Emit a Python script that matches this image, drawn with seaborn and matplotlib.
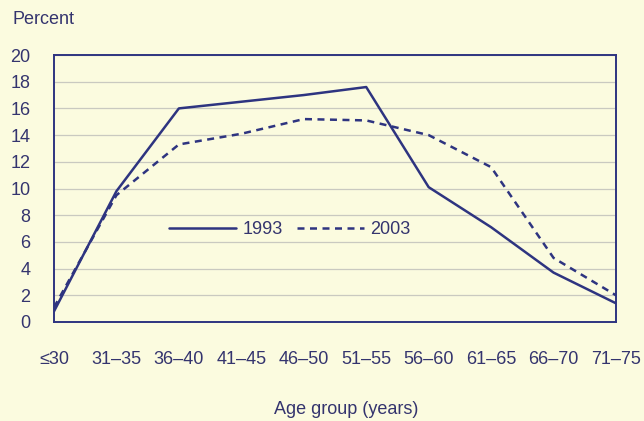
import numpy as np
import pandas as pd
import matplotlib
matplotlib.use("Agg")
import matplotlib.pyplot as plt
import seaborn as sns

age_groups = ["≤30", "31–35", "36–40", "41–45", "46–50", "51–55",
              "56–60", "61–65", "66–70", "71–75"]
pct_1993 = [0.8, 9.8, 16.0, 16.5, 17.0, 17.6, 10.1, 7.1, 3.7, 1.4]
pct_2003 = [1.1, 9.5, 13.3, 14.1, 15.2, 15.1, 14.0, 11.6, 4.8, 2.0]
y_ticks = list(range(0, 21, 2))

BG = "#fbfbdf"
NAVY = "#2e3480"
TEXT = "#34346e"
FS = 13

sns.set_style("white")
plt.rcParams["font.family"] = ["Liberation Sans", "DejaVu Sans"]

df = pd.DataFrame({
    "pos": list(range(len(age_groups))) * 2,
    "pct": pct_1993 + pct_2003,
    "year": ["1993"] * len(age_groups) + ["2003"] * len(age_groups),
})

fig = plt.figure(figsize=(6.44, 4.21), dpi=100, facecolor=BG)
ax = fig.add_axes([54 / 644, 1 - 322 / 421, 562 / 644, 267 / 421])
ax.set_facecolor(BG)

sns.lineplot(data=df, x="pos", y="pct", hue="year", style="year",
             palette={"1993": NAVY, "2003": NAVY},
             dashes={"1993": "", "2003": (2.8, 2.2)},
             linewidth=1.8, ax=ax)

ax.set_xlim(0, len(age_groups) - 1)
ax.set_ylim(0, 20)
ax.set_yticks(y_ticks)
ax.set_yticklabels([str(t) for t in y_ticks], fontsize=FS, color=TEXT)
ax.set_xticks(range(len(age_groups)))
ax.set_xticklabels(age_groups, fontsize=FS, color=TEXT)
ax.tick_params(axis="both", direction="in", length=6, width=1.2, color=NAVY)
ax.tick_params(axis="x", pad=21)
ax.tick_params(axis="y", pad=17)
ax.yaxis.grid(True, color="#c9c9c0", linewidth=0.9)
ax.set_axisbelow(True)
for sp in ax.spines.values():
    sp.set_visible(True)
    sp.set_color(NAVY)
    sp.set_linewidth(1.4)

ax.set_xlabel("Age group (years)", fontsize=FS, color=TEXT)
ax.xaxis.set_label_coords((346 - 54) / 562, -(409 - 322) / 267)
ax.xaxis.label.set_va("center")
ax.set_ylabel("")
fig.text(12 / 644, 1 - 20 / 421, "Percent", fontsize=FS, color=TEXT,
         va="center", ha="left")

leg = ax.legend(loc="center", bbox_to_anchor=((290 - 54) / 562, (322 - 230) / 267),
                ncol=2, frameon=False, fontsize=FS, handlelength=3.7,
                columnspacing=0.8, handletextpad=0.35)
for t in leg.get_texts():
    t.set_color(TEXT)

fig.savefig("out.png", dpi=100, facecolor=BG)
